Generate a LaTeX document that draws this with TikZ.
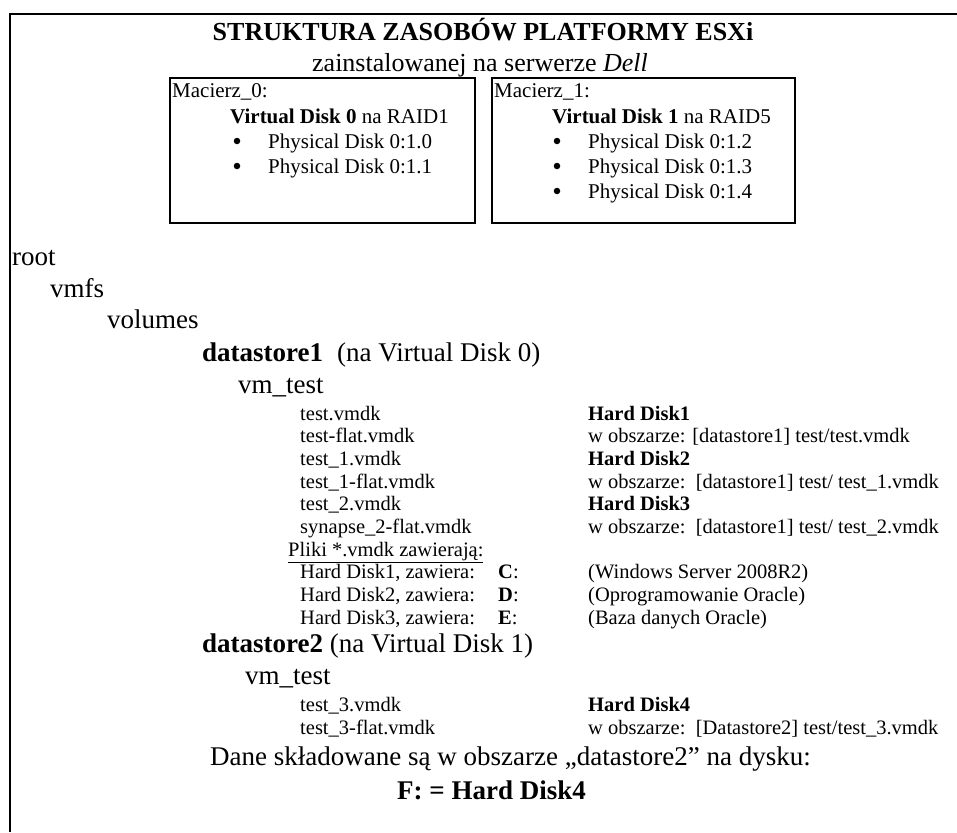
\documentclass[tikz,border=0pt]{standalone}
\usepackage{fontspec}
\setmainfont{Liberation Serif}
\usepackage{tikz}
\usetikzlibrary{positioning}

\begin{document}
\begin{tikzpicture}[x=1pt,y=-1pt,
  every node/.style={inner sep=0pt,anchor=base west},
  big/.style={font=\fontsize{27}{30}\selectfont},
  head/.style={font=\fontsize{26}{29}\selectfont,anchor=base},
  small/.style={font=\fontsize{20.5}{23}\selectfont},
  boxtxt/.style={font=\fontsize{21}{24}\selectfont},
  dot/.style={circle,fill,minimum size=6.5pt,anchor=center}]
  \useasboundingbox (0,0) rectangle (957,832);
  % outer frame (cut on the right and at the bottom)
  \draw[line width=2pt] (957,14) -- (10,14) -- (10,832);
  % title
  \node[head] (title) at (483,41) {\bfseries STRUKTURA ZASOBÓW PLATFORMY ESXi};
  \node[head] (subtitle) at (480,72) {zainstalowanej na serwerze \textit{Dell}};
  % disk arrays
  \draw[line width=1.5pt] (170,78) rectangle (475,223);
  \node[boxtxt] (arr0) at (172,98) {Macierz\_0:};
  \node[boxtxt] (vd0) at (230,123) {\textbf{Virtual Disk 0} na RAID1};
  \node[dot] (b00) at (237,141) {};
  \node[boxtxt] (pd10) at (268,148) {Physical Disk 0:1.0};
  \node[dot] (b01) at (237,166) {};
  \node[boxtxt] (pd11) at (268,173) {Physical Disk 0:1.1};
  \draw[line width=1.5pt] (492,78) rectangle (795,223);
  \node[boxtxt] (arr1) at (494,98) {Macierz\_1:};
  \node[boxtxt] (vd1) at (552,123) {\textbf{Virtual Disk 1} na RAID5};
  \node[dot] (b10) at (557,141) {};
  \node[boxtxt] (pd12) at (588,148) {Physical Disk 0:1.2};
  \node[dot] (b11) at (557,166) {};
  \node[boxtxt] (pd13) at (588,173) {Physical Disk 0:1.3};
  \node[dot] (b12) at (557,191) {};
  \node[boxtxt] (pd14) at (588,198) {Physical Disk 0:1.4};
  % directory tree
  \node[big] (root) at (12,265) {root};
  \node[big] (vmfs) at (50,297) {vmfs};
  \node[big] (volumes) at (107,328) {volumes};
  \node[big] (ds1) at (202,361) {\textbf{datastore1}\hspace{14pt}(na Virtual Disk 0)};
  \node[big] (vm1) at (238,393) {vm\_test};
  % files of datastore1
  \node[small] (f1) at (300,420) {test.vmdk};
  \node[small] (f2) at (300,442.7) {test-flat.vmdk};
  \node[small] (f3) at (300,465.4) {test\_1.vmdk};
  \node[small] (f4) at (300,488.1) {test\_1-flat.vmdk};
  \node[small] (f5) at (300,510.8) {test\_2.vmdk};
  \node[small] (f6) at (300,533.5) {synapse\_2-flat.vmdk};
  \node[small] (hd1) at (588,420) {\textbf{Hard Disk1}};
  \node[small] (loc1) at (588,442.7) {w obszarze: [datastore1] test/test.vmdk};
  \node[small] (hd2) at (588,465.4) {\textbf{Hard Disk2}};
  \node[small] (loc2) at (588,488.1) {w obszarze:\ \ [datastore1] test/ test\_1.vmdk};
  \node[small] (hd3) at (588,510.8) {\textbf{Hard Disk3}};
  \node[small] (loc3) at (588,533.5) {w obszarze:\ \ [datastore1] test/ test\_2.vmdk};
  % contents of the disks
  \node[small] (pliki) at (288,556.2) {\underline{Pliki *.vmdk zawierają:}};
  \node[small] (c1) at (300,578.9) {Hard Disk1, zawiera:};
  \node[small] (c2) at (300,601.6) {Hard Disk2, zawiera:};
  \node[small] (c3) at (300,624.3) {Hard Disk3, zawiera:};
  \node[small] (dc) at (498,578.9) {\textbf{C}:};
  \node[small] (dd) at (498,601.6) {\textbf{D}:};
  \node[small] (de) at (498,624.3) {\textbf{E}:};
  \node[small] (os) at (588,578.9) {(Windows Server 2008R2)};
  \node[small] (ora) at (588,601.6) {(Oprogramowanie Oracle)};
  \node[small] (db) at (588,624.3) {(Baza danych Oracle)};
  % datastore2
  \node[big] (ds2) at (202,652) {\textbf{datastore2} (na Virtual Disk 1)};
  \node[big] (vm2) at (245,684) {vm\_test};
  \node[small] (f7) at (300,711) {test\_3.vmdk};
  \node[small] (f8) at (300,734) {test\_3-flat.vmdk};
  \node[small] (hd4) at (588,711) {\textbf{Hard Disk4}};
  \node[small] (loc4) at (588,734) {w obszarze:\ \ [Datastore2] test/test\_3.vmdk};
  % data location
  \node[big] (dane) at (210,765) {Dane składowane są w obszarze „datastore2” na dysku:};
  \node[big] (fdisk) at (397,799) {\textbf{F: = Hard Disk4}};
\end{tikzpicture}
\end{document}
